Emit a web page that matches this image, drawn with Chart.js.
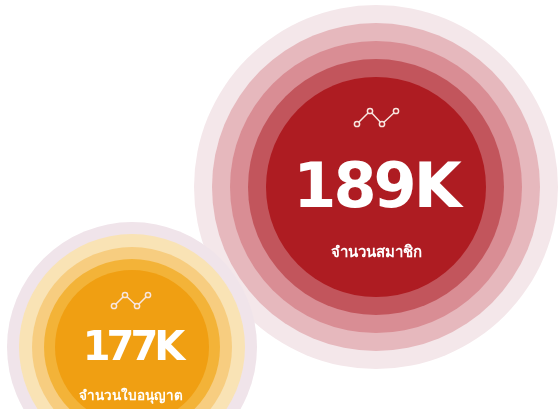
<!DOCTYPE html>
<html>
<head>
<meta charset="utf-8">
<style>
  html, body { margin: 0; background: #fff; }
  canvas { display: block; }
</style>
<script src="https://cdn.jsdelivr.net/npm/chart.js@4/dist/chart.umd.min.js"></script>
</head>
<body>
<canvas id="myChart" width="560" height="409"></canvas>
<script>
const categories = ["จำนวนสมาชิก", "จำนวนใบอนุญาต"];
const totals = [189, 177];
const centerX = [376, 132];
const centerY = [187, 347];

// radius of each disc, outermost first
const memberRadii = [182, 164, 146, 128, 110];
const licenceRadii = [125, 113, 100, 88, 77];
const memberColors = ["#f4e7ea", "#e6b8bd", "#d98d94", "#c2555c", "#ae1c22"];
const licenceColors = ["#f0e4ea", "#f9e3b5", "#f7cd80", "#f3b338", "#f09f12"];

// small trend glyph above each number
const memberIconX = [357, 370, 382, 396];
const memberIconY = [124, 111, 124, 111];
const licenceIconX = [114, 125, 137, 148];
const licenceIconY = [306, 295, 306, 295];

function discs(index, radii, colors, startOrder) {
  return radii.map((r, i) => ({
    type: "bubble",
    label: categories[index],
    data: [{ x: centerX[index], y: centerY[index], r: r }],
    backgroundColor: colors[i],
    borderWidth: 0,
    hoverRadius: 0,
    order: startOrder - i,
  }));
}

function icon(xs, ys, fill) {
  return {
    type: "line",
    data: xs.map((x, i) => ({ x: x, y: ys[i] })),
    borderColor: "#f8e6e0",
    borderWidth: 1.5,
    pointRadius: 2.6,
    pointBorderWidth: 1.5,
    pointBorderColor: "#f8e6e0",
    pointBackgroundColor: fill,
    tension: 0,
    order: 0,
  };
}

// numbers and captions painted over the discs
const labelsPlugin = {
  id: "labels",
  afterDraw(chart) {
    const { ctx, scales } = chart;
    ctx.save();
    ctx.fillStyle = "#fff";
    ctx.textAlign = "center";
    ctx.textBaseline = "alphabetic";

    ctx.font = "bold 62px 'DejaVu Sans'";
    ctx.letterSpacing = "-3px";
    ctx.fillText(`${totals[0]}K`, scales.x.getPixelForValue(376), scales.y.getPixelForValue(207));
    ctx.font = "bold 40px 'DejaVu Sans'";
    ctx.letterSpacing = "-4px";
    ctx.fillText(`${totals[1]}K`, scales.x.getPixelForValue(132), scales.y.getPixelForValue(360));

    ctx.letterSpacing = "0px";
    ctx.font = "bold 15px 'Noto Sans', sans-serif";
    ctx.fillText(categories[0], scales.x.getPixelForValue(376), scales.y.getPixelForValue(257));
    ctx.font = "bold 13.5px 'Noto Sans', sans-serif";
    ctx.fillText(categories[1], scales.x.getPixelForValue(131), scales.y.getPixelForValue(400));
    ctx.restore();
  },
};

new Chart(document.getElementById("myChart").getContext("2d"), {
  type: "bubble",
  data: {
    datasets: [
      icon(memberIconX, memberIconY, "#ae1c22"),
      icon(licenceIconX, licenceIconY, "#f09f12"),
      ...discs(1, licenceRadii, licenceColors, 10),
      ...discs(0, memberRadii, memberColors, 20),
    ],
  },
  options: {
    responsive: false,
    animation: false,
    events: [],
    layout: { padding: 0, autoPadding: false },
    scales: {
      x: { display: false, min: 0, max: 560 },
      y: { display: false, min: 0, max: 409, reverse: true },
    },
    plugins: {
      legend: { display: false },
      tooltip: { enabled: false },
    },
  },
  plugins: [labelsPlugin],
});
</script>
</body>
</html>
